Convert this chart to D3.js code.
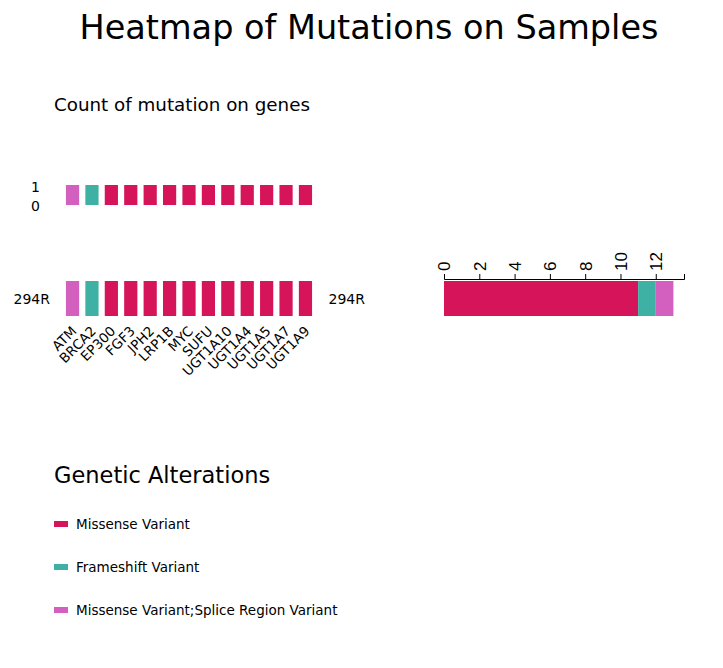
<!DOCTYPE html>
<html><head><meta charset="utf-8">
<script src="https://cdn.jsdelivr.net/npm/d3@7"></script>
<style>body{margin:0;background:#fff;font-family:"DejaVu Sans",sans-serif}</style>
</head><body>
<svg id="c" width="723" height="668"></svg>
<script>
var genes = ["ATM","BRCA2","EP300","FGF3","JPH2","LRP1B","MYC","SUFU","UGT1A10","UGT1A4","UGT1A5","UGT1A7","UGT1A9"];
var geneType = ["splice","frame","miss","miss","miss","miss","miss","miss","miss","miss","miss","miss","miss"];
var geneCount = [1,1,1,1,1,1,1,1,1,1,1,1,1];
var sample = "294R";
var typeKeys = ["miss","frame","splice"];
var typeLabels = ["Missense Variant","Frameshift Variant","Missense Variant;Splice Region Variant"];
var typeTotals = [11,1,1];
var colors = {miss:"#d6145a", frame:"#3fb0a4", splice:"#d35fbe"};

var svg = d3.select("#c");
svg.append("text").attr("x",369).attr("y",39).attr("text-anchor","middle").attr("font-size",33.5).text("Heatmap of Mutations on Samples");
svg.append("text").attr("x",54).attr("y",111).attr("font-size",18.3).text("Count of mutation on genes");

var x = d3.scaleBand().domain(genes).range([64,314]).paddingInner(0.32).paddingOuter(0.1);
var yc = d3.scaleLinear().domain([0,1]).range([205,185]);
svg.selectAll(".cb").data(genes).enter().append("rect")
  .attr("x",d=>x(d)).attr("width",x.bandwidth())
  .attr("y",(d,i)=>yc(geneCount[i])).attr("height",(d,i)=>yc(0)-yc(geneCount[i]))
  .attr("fill",(d,i)=>colors[geneType[i]]);
svg.append("text").attr("x",40).attr("y",192).attr("text-anchor","end").attr("font-size",14).text("1");
svg.append("text").attr("x",40).attr("y",211).attr("text-anchor","end").attr("font-size",14).text("0");

svg.selectAll(".hm").data(genes).enter().append("rect")
  .attr("x",d=>x(d)).attr("width",x.bandwidth()).attr("y",281).attr("height",35)
  .attr("fill",(d,i)=>colors[geneType[i]]);
svg.append("text").attr("x",50).attr("y",304).attr("text-anchor","end").attr("font-size",14).text(sample);
svg.selectAll(".gl").data(genes).enter().append("text")
  .attr("transform",d=>"translate("+(x(d)+x.bandwidth()/2+5)+",332) rotate(-45)")
  .attr("text-anchor","end").attr("font-size",13.5).text(d=>d);

var xs = d3.scaleLinear().domain([0,13.6]).range([444,684]);
svg.append("text").attr("x",365).attr("y",304).attr("text-anchor","end").attr("font-size",14).text(sample);
var acc = 0;
typeKeys.forEach(function(k,i){
  svg.append("rect").attr("x",xs(acc)).attr("width",xs(acc+typeTotals[i])-xs(acc))
    .attr("y",281).attr("height",35).attr("fill",colors[k]);
  acc += typeTotals[i];
});
var ax = svg.append("g").attr("transform","translate(0,279)")
  .call(d3.axisTop(xs).tickValues([0,2,4,6,8,10,12]).tickSizeOuter(0).tickSize(5));
ax.selectAll("text").attr("font-size",17).attr("transform","rotate(-90)").attr("text-anchor","start")
  .attr("x",8).attr("y",0).attr("dy","0.35em");
ax.select(".domain").attr("stroke","#000");

svg.append("text").attr("x",54).attr("y",483).attr("font-size",22.5).text("Genetic Alterations");
typeKeys.forEach(function(k,i){
  var yy = 524 + i*43;
  svg.append("rect").attr("x",54).attr("y",yy-3).attr("width",14).attr("height",6).attr("fill",colors[k]);
  svg.append("text").attr("x",76).attr("y",yy+5).attr("font-size",13.5).text(typeLabels[i]);
});
</script>
</body></html>
